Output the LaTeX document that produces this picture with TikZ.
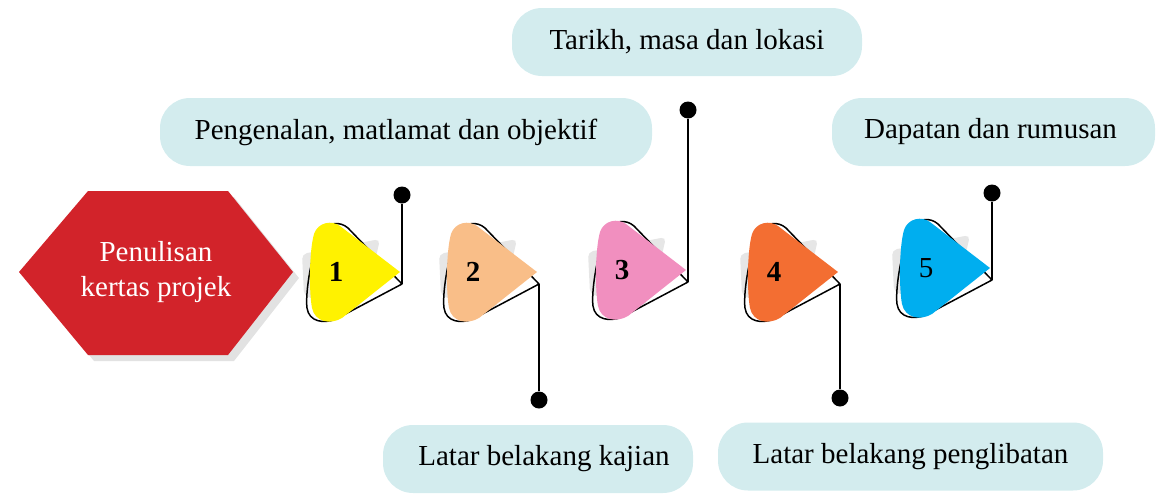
\documentclass[tikz,border=0pt]{standalone}
\usepackage{fontspec}
\setmainfont{Liberation Serif}
\definecolor{boxc}{HTML}{D3ECEE}
\definecolor{hexred}{HTML}{D2232A}
\definecolor{hexshade}{HTML}{E2E2E2}
\definecolor{ghost}{HTML}{E6E6E6}
\definecolor{cA}{HTML}{FFF200}
\definecolor{cB}{HTML}{F9BE88}
\definecolor{cC}{HTML}{F18FBF}
\definecolor{cD}{HTML}{F36E32}
\definecolor{cE}{HTML}{00AEEF}
\tikzset{
  infobox/.style={fill=boxc, rounded corners=30pt, minimum height=68pt, inner sep=0pt,
    font=\fontsize{29}{34}\selectfont},
  pin/.style={circle, fill=black, minimum size=17pt, inner sep=0pt},
  link/.style={line width=1.5pt, black},
  numlab/.style={font=\fontsize{29}{34}\selectfont\bfseries},
  shapeline/.style={line width=1.5pt, black, line join=round},
  hextext/.style={text=white, align=center, font=\fontsize{29}{35}\selectfont},
}
\newcommand\playtri[6]{%
  \begin{scope}[shift={(#2,#3)}]
    \fill[ghost, rounded corners=5pt] (-8,-18) -- (70,-33) -- (66,-15) -- (48,38) -- (-6,24) -- cycle;
    \draw[shapeline] (92,12) -- (38,-44) .. controls (30,-51) and (18,-50) .. (12,-40)
      .. controls (2,-22) and (-5,20) .. (-3,36)
      .. controls (-1,50) and (14,52) .. (26,47) -- cycle;
    \fill[#4] (90,0) -- (30,-46) .. controls (22,-52) and (8,-50) .. (4,-38)
      .. controls (-1,-20) and (-1,20) .. (2,36)
      .. controls (5,50) and (20,53) .. (32,46) -- cycle;
    \node[numlab,#6] (n#1) at (26,0) {#5};
    \coordinate (t#1) at (92,12);
  \end{scope}}
\begin{document}
\begin{tikzpicture}[x=1pt,y=-1pt]
\useasboundingbox (0,0) rectangle (1165,493);
% hexagon
\fill[hexshade] (25,278) -- (94,197) -- (234,197) -- (299,278) -- (234,361) -- (94,361) -- cycle;
\fill[hexred] (19,272) -- (88,191) -- (228,191) -- (293,272) -- (228,355) -- (88,355) -- cycle;
\node[hextext] (hex) at (156,272) {Penulisan\\kertas projek};
% boxes
\node[infobox, minimum width=350pt] (b3) at (687,42) {Tarikh, masa dan lokasi};
\node[infobox, minimum width=492pt] (b1) at (406,132) {Pengenalan, matlamat dan objektif\kern20pt};
\node[infobox, minimum width=323pt] (b5) at (993.5,132) {Dapatan dan rumusan\kern6pt};
\node[infobox, minimum width=310pt] (b2) at (538,459) {\kern12pt Latar belakang kajian};
\node[infobox, minimum width=385pt] (b4) at (910.5,456.5) {Latar belakang penglibatan};
% triangles
\playtri{1}{310}{272}{cA}{1}{}
\playtri{2}{447}{272}{cB}{2}{}
\playtri{3}{596}{270}{cC}{3}{}
\playtri{4}{748}{272}{cD}{4}{}
\playtri{5}{900}{268}{cE}{5}{font=\fontsize{29}{34}\selectfont}
% pins
\node[pin] (d1) at (402,195) {};
\node[pin] (d2) at (539,400) {};
\node[pin] (d3) at (688,110) {};
\node[pin] (d4) at (840,398) {};
\node[pin] (d5) at (992,193) {};
\draw[link] (t1) -- (d1);
\draw[link] (t2) -- (d2);
\draw[link] (t3) -- (d3);
\draw[link] (t4) -- (d4);
\draw[link] (t5) -- (d5);
\end{tikzpicture}
\end{document}
